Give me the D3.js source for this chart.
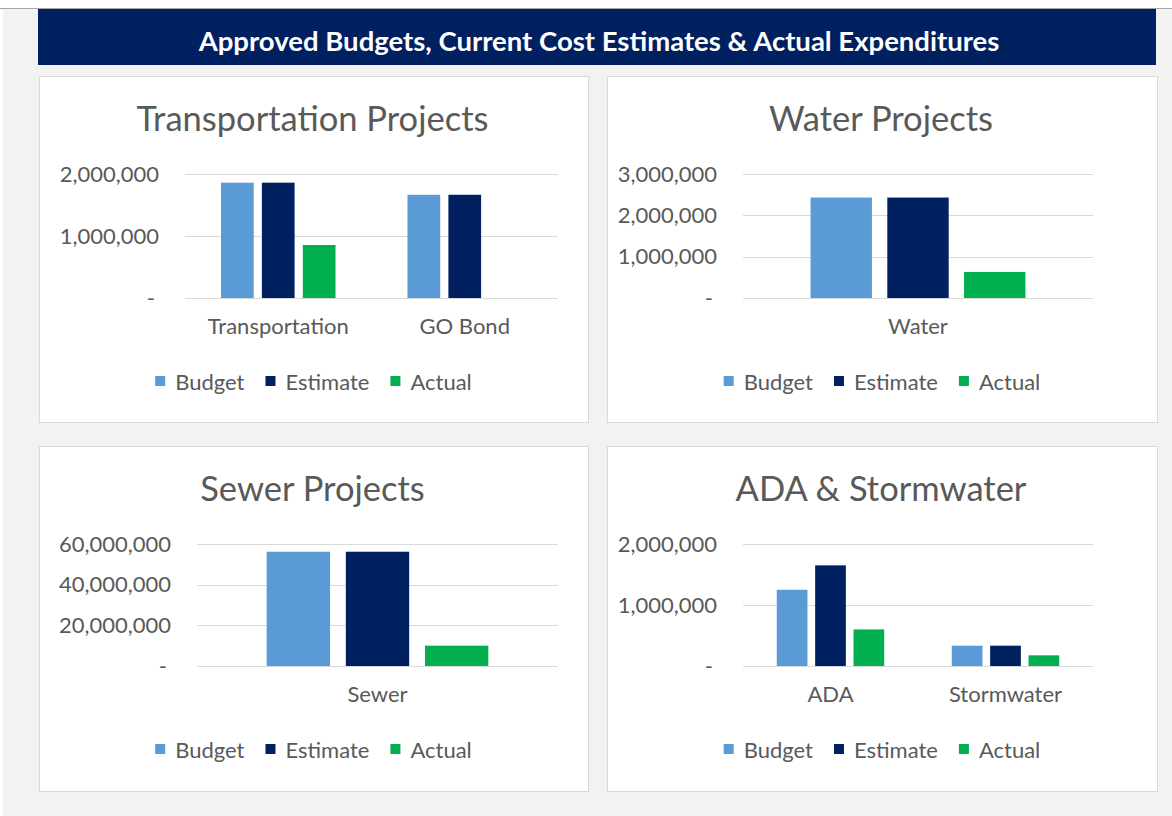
<!DOCTYPE html>
<html>
<head>
<meta charset="utf-8">
<script src="https://cdn.jsdelivr.net/npm/d3@7"></script>
<style>
  html, body { margin: 0; padding: 0; background: #ffffff; }
  svg { display: block; }
  text { font-family: Lato, "Open Sans", sans-serif; }
</style>
</head>
<body>
<div id="chart"></div>
<script>
// ---------- DATA ----------
const mainTitle = "Approved Budgets, Current Cost Estimates & Actual Expenditures";
const seriesNames = ["Budget", "Estimate", "Actual"];

const transportationTitle = "Transportation Projects";
const transportationCategories = ["Transportation", "GO Bond"];
const transportationBudget = [1860000, 1665000];
const transportationEstimate = [1860000, 1665000];
const transportationActual = [855000, 0];
const transportationTicks = [0, 1000000, 2000000];

const waterTitle = "Water Projects";
const waterCategories = ["Water"];
const waterBudget = [2430000];
const waterEstimate = [2430000];
const waterActual = [630000];
const waterTicks = [0, 1000000, 2000000, 3000000];

const sewerTitle = "Sewer Projects";
const sewerCategories = ["Sewer"];
const sewerBudget = [56200000];
const sewerEstimate = [56200000];
const sewerActual = [10000000];
const sewerTicks = [0, 20000000, 40000000, 60000000];

const adaTitle = "ADA & Stormwater";
const adaCategories = ["ADA", "Stormwater"];
const adaBudget = [1250000, 333000];
const adaEstimate = [1650000, 333000];
const adaActual = [600000, 175000];
const adaTicks = [0, 1000000, 2000000];

// ---------- STYLE ----------
const seriesColors = { Budget: "#5b9bd5", Estimate: "#002060", Actual: "#00b050" };
const textColor = "#595959";
const gridColor = "#d9d9d9";

const W = 1172, H = 816;
const svg = d3.select("#chart").append("svg").attr("width", W).attr("height", H);

// background
svg.append("rect").attr("x", 3).attr("y", 8).attr("width", W - 3).attr("height", H - 8).attr("fill", "#f2f2f2");
svg.append("line").attr("x1", 0).attr("x2", W).attr("y1", 8.5).attr("y2", 8.5).attr("stroke", "#a6a6a6").attr("stroke-width", 1);

// title bar
svg.append("rect").attr("x", 38).attr("y", 9).attr("width", 1118).attr("height", 56).attr("fill", "#002060");
svg.append("text").attr("x", 599).attr("y", 51).attr("text-anchor", "middle")
  .attr("fill", "#ffffff").attr("font-weight", "bold").attr("font-size", 27.5)
  .text(mainTitle);

const panels = [
  { title: transportationTitle, cats: transportationCategories, vals: [transportationBudget, transportationEstimate, transportationActual], ticks: transportationTicks,
    box: [39, 76, 549, 346], plot: [185, 174, 558, 298] },
  { title: waterTitle, cats: waterCategories, vals: [waterBudget, waterEstimate, waterActual], ticks: waterTicks,
    box: [607, 76, 550, 346], plot: [743, 174, 1093, 298] },
  { title: sewerTitle, cats: sewerCategories, vals: [sewerBudget, sewerEstimate, sewerActual], ticks: sewerTicks,
    box: [39, 446, 549, 345], plot: [197, 544, 558, 666] },
  { title: adaTitle, cats: adaCategories, vals: [adaBudget, adaEstimate, adaActual], ticks: adaTicks,
    box: [607, 446, 550, 345], plot: [743, 544, 1093, 666] }
];

const fmt = d3.format(",");

panels.forEach(p => {
  const [bx, by, bw, bh] = p.box;
  const [pl, pt, pr, pb] = p.plot;
  const g = svg.append("g");

  g.append("rect").attr("x", bx + 0.5).attr("y", by + 0.5).attr("width", bw).attr("height", bh)
    .attr("fill", "#ffffff").attr("stroke", "#d9d9d9");

  // title
  g.append("text").attr("x", bx + bw / 2 - 1).attr("y", by + 55).attr("text-anchor", "middle")
    .attr("fill", textColor).attr("font-size", 34.5).text(p.title);

  const y = d3.scaleLinear().domain([0, d3.max(p.ticks)]).range([pb, pt]);
  const x0 = d3.scaleBand().domain(p.cats).range([pl, pr]).padding(0);
  const barW = x0.bandwidth() / (3.5 + 2.2);
  const groupW = 3.5 * barW;
  const x1 = d3.scaleBand().domain(seriesNames).range([0, groupW]).paddingInner(0.2).paddingOuter(0);

  // gridlines
  g.selectAll(".grid").data(p.ticks).enter().append("line")
    .attr("x1", pl).attr("x2", pr)
    .attr("y1", d => Math.round(y(d)) + 0.5).attr("y2", d => Math.round(y(d)) + 0.5)
    .attr("stroke", gridColor).attr("stroke-width", 1);

  // y tick labels
  g.selectAll(".ytick").data(p.ticks).enter().append("text")
    .attr("x", d => d === 0 ? pl - 30 : pl - 26)
    .attr("y", d => y(d) + 7.5)
    .attr("text-anchor", "end").attr("fill", textColor).attr("font-size", 22)
    .text(d => d === 0 ? "-" : fmt(d));

  // bars
  p.cats.forEach((c, ci) => {
    const off = x0(c) + (x0.bandwidth() - groupW) / 2;
    seriesNames.forEach((s, si) => {
      const v = p.vals[si][ci];
      if (v <= 0) return;
      g.append("rect")
        .attr("x", off + x1(s)).attr("width", x1.bandwidth())
        .attr("y", y(v)).attr("height", y(0) - y(v))
        .attr("fill", seriesColors[s]);
    });
    g.append("text").attr("x", x0(c) + x0.bandwidth() / 2).attr("y", pb + 36)
      .attr("text-anchor", "middle").attr("fill", textColor).attr("font-size", 22).text(c);
  });

  // legend
  const lg = g.append("g");
  let cx = 0;
  seriesNames.forEach((s, i) => {
    const item = lg.append("g").attr("transform", `translate(${cx},0)`);
    item.append("rect").attr("x", 0).attr("y", -6).attr("width", 10).attr("height", 10).attr("fill", seriesColors[s]);
    const t = item.append("text").attr("x", 20).attr("y", 7.5).attr("fill", textColor).attr("font-size", 22).text(s);
    cx += 20 + t.node().getComputedTextLength() + 21;
  });
  const lw = cx - 21;
  lg.attr("transform", `translate(${bx + bw / 2 - lw / 2},${pb + 84})`);
});
</script>
</body>
</html>
